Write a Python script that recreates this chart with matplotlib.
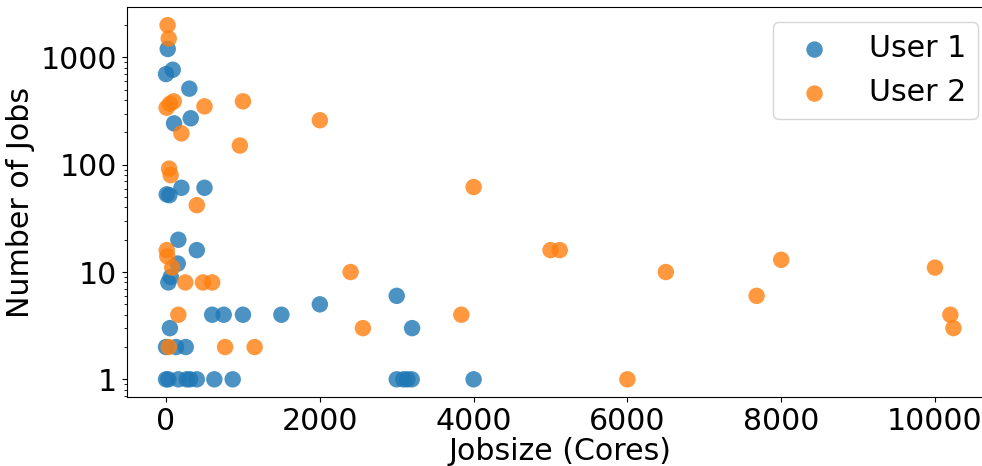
import matplotlib
matplotlib.use('Agg')
import matplotlib.pyplot as plt
from matplotlib.ticker import FixedLocator, FixedFormatter, NullFormatter

# User 1: (jobsize in cores, number of jobs)
user1_size = [22, 0, 87, 303, 104, 321, 200, 500, 9, 43, 160, 400, 152, 61, 30,
              3000, 2000, 600, 750, 1000, 1500, 50, 3200, 0, 130, 256,
              0, 30, 160, 269, 312, 400, 628, 867, 3000, 3086, 3138, 3195, 4000]
user1_jobs = [1200, 700, 768, 512, 243, 271, 61, 61, 53, 52, 20, 16, 12, 9, 8,
              6, 5, 4, 4, 4, 4, 3, 3, 2, 2, 2,
              1, 1, 1, 1, 1, 1, 1, 1, 1, 1, 1, 1, 1]

# User 2
user2_size = [20, 35, 8, 50, 100, 500, 1000, 2000, 200, 960, 40, 60, 400, 4000,
              9, 17, 80, 250, 480, 600, 2400, 5000, 5120, 6500, 7680, 8000,
              10000, 10200, 10240, 160, 3840, 2560, 35, 768, 1152, 6000]
user2_jobs = [2000, 1500, 340, 370, 390, 350, 390, 260, 196, 151, 92, 80, 42, 62,
              16, 14, 11, 8, 8, 8, 10, 16, 16, 10, 6, 13,
              11, 4, 3, 4, 4, 3, 2, 2, 2, 1]

fs = 21.6

fig = plt.figure(figsize=(9.82, 4.66), dpi=100)
# the axes runs slightly past the right edge of the figure, as in the original crop
ax = fig.add_axes([0.129, 0.148, 0.882, 0.836])

ax.scatter(user1_size, user1_jobs, s=140, alpha=0.8, color='tab:blue', edgecolors='none', label='User 1')
ax.scatter(user2_size, user2_jobs, s=140, alpha=0.8, color='tab:orange', edgecolors='none', label='User 2')

ax.set_yscale('log')
ax.yaxis.set_major_locator(FixedLocator([1, 10, 100, 1000]))
ax.yaxis.set_major_formatter(FixedFormatter(['1', '10', '100', '1000']))
ax.yaxis.set_minor_formatter(NullFormatter())
ax.set_xticks([0, 2000, 4000, 6000, 8000, 10000])

ax.tick_params(labelsize=fs)
ax.set_xlabel('Jobsize (Cores)', fontsize=fs, labelpad=1)
ax.set_ylabel('Number of Jobs', fontsize=fs)
ax.legend(loc='upper right', fontsize=fs)

fig.savefig('out.png', dpi=100)
